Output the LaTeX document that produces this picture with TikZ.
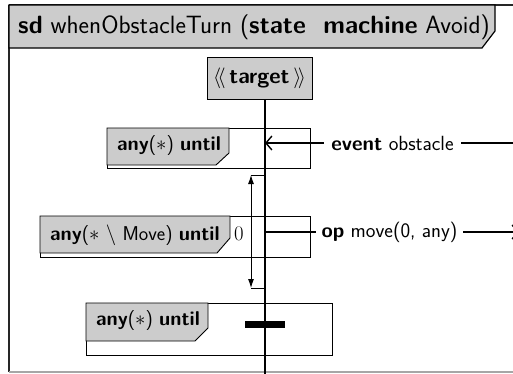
\documentclass[tikz,border=0pt]{standalone}
\usetikzlibrary{arrows.meta}
\begin{document}
\begin{tikzpicture}[x=1pt,y=-1pt,
  framecol/.style={draw=black!85,line width=1.2pt},
  fragbox/.style={draw=black,line width=0.9pt},
  fraglabel/.style={draw=black,line width=0.9pt,fill=black!20},
  lbltext/.style={anchor=west,inner sep=0pt,font=\sffamily\fontsize{20}{24}\selectfont},
  msgline/.style={draw=black,line width=1.4pt},
  msgtext/.style={fill=white,inner sep=0pt,font=\sffamily\fontsize{20.5}{24}\selectfont},
  lifeline/.style={draw=black,line width=1.8pt},
]
\useasboundingbox (0,0) rectangle (513,373);
\clip (0,0) rectangle (513,373);
% frame
\draw[framecol] (9,5) -- (9,372);
\draw[framecol] (9,5) -- (540,5);
\draw[draw=black!35,line width=1.2pt] (9,372) -- (540,372);
\draw[fraglabel,line width=1.2pt] (9,5) -- (495,5) -- (495,31) -- (482,48) -- (9,48) -- cycle;
\node[anchor=west,inner sep=0pt,font=\sffamily\fontsize{25}{30}\selectfont] (title) at (18,27)
  {\textbf{sd} whenObstacleTurn (\textbf{state\,\, machine} Avoid)};
% fragment 1
\draw[fragbox] (107,128) rectangle (310,168);
\draw[fraglabel] (107,128) -- (229,128) -- (229,153) -- (216,165) -- (107,165) -- cycle;
\node[lbltext] (f1) at (117,146) {\textbf{any}($\ast$) \textbf{until}};
% fragment 2
\draw[fragbox] (40,216) rectangle (310,257);
\draw[fraglabel] (40,216) -- (230,216) -- (230,238) -- (217,253) -- (40,253) -- cycle;
\node[lbltext] (f2) at (50,235) {\textbf{any}($\ast$ $\setminus$ Move) \textbf{until}};
\node[anchor=west,inner sep=0pt,font=\fontsize{20}{24}\selectfont] (zero) at (234,234) {$0$};
% fragment 3
\draw[fragbox] (86,303) rectangle (332,355);
\draw[fraglabel] (86,303) -- (208,303) -- (208,328) -- (195,341) -- (86,341) -- cycle;
\node[lbltext] (f3) at (96,320) {\textbf{any}($\ast$) \textbf{until}};
% target lifeline
\node[draw=black,line width=1pt,fill=black!20,minimum width=105pt,minimum height=42pt,inner sep=0pt,
  font=\sffamily\fontsize{22}{26}\selectfont] (target) at (259.5,78)
  {$\langle\!\langle$\,\textbf{target}\,$\rangle\!\rangle$};
\coordinate (lltop) at (265,99);
\coordinate (llbot) at (265,380);
\draw[lifeline] (lltop) -- (llbot);
% stop bar
\fill[black] (245,321) rectangle (285,328);
% message 1
\coordinate (m1s) at (530,143);
\coordinate (m1e) at (265,143);
\draw[msgline,-{Straight Barb[length=6pt,width=14pt]}] (m1s) -- (m1e);
\node[msgtext,inner xsep=7pt] (m1) at (392.5,143) {\textbf{event} obstacle};
% message 2
\coordinate (m2s) at (265,232);
\coordinate (m2e) at (519,232);
\draw[msgline,-{Straight Barb[length=6pt,width=14pt]}] (m2s) -- (m2e);
\node[msgtext,inner xsep=6pt] (m2) at (389.5,232) {\textbf{op} move(0, any)};
% duration constraint
\coordinate (d1) at (251,175);
\coordinate (d2) at (251,288);
\coordinate (d1l) at (265,175);
\coordinate (d2l) at (265,288);
\draw[line width=0.9pt] (d1) -- (d1l);
\draw[line width=0.9pt] (d2) -- (d2l);
\draw[line width=0.9pt,{Latex[length=9pt,width=6pt]}-{Latex[length=9pt,width=6pt]}] (d1) -- (d2);
\end{tikzpicture}
\end{document}
